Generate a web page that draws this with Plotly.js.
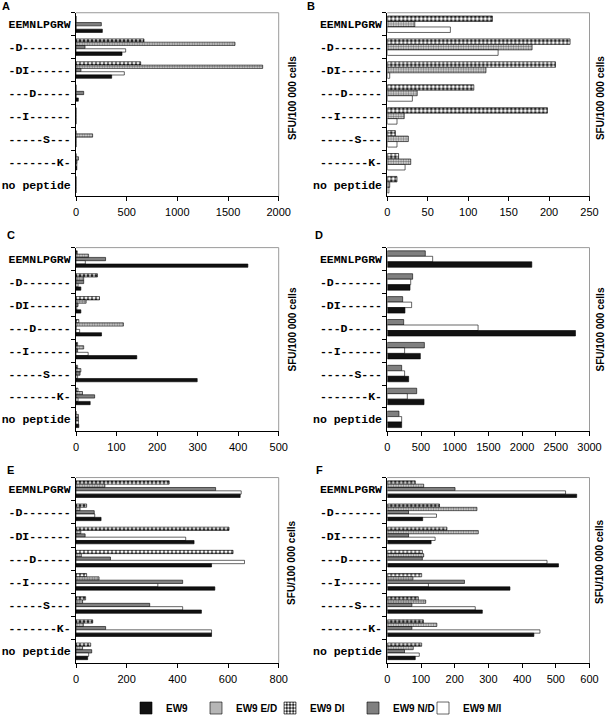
<!DOCTYPE html>
<html>
<head>
<meta charset="utf-8">
<script src="https://cdn.plot.ly/plotly-3.0.1.min.js"></script>
<style>html,body{margin:0;padding:0;background:#fff;}#chart{width:608px;height:723px;}</style>
</head>
<body>
<div id="chart"></div>
<script>
const categories = ["EEMNLPGRW","-D-------","-DI------","---D-----","--I------","-----S---","-------K-","no peptide"];
const seriesNames = ["EW9","EW9 E/D","EW9 DI","EW9 N/D","EW9 M/I"];
const panelLetters = ["A","B","C","D","E","F"];
const axisTitle = "SFU/100 000 cells";

// Panel A
const A_DI  = [0, 671, 638, 0, 0, 0, 0, 0];
const A_ED  = [0, 1569, 1842, 0, 0, 164, 25, 0];
const A_ND  = [250, 89, 49, 76, 0, 0, 10, 0];
const A_MI  = [0, 490, 477, 0, 0, 0, 8, 0];
const A_EW9 = [260, 454, 352, 23, 0, 0, 8, 0];
// Panel B
const B_DI  = [130, 226, 208, 107, 198, 10, 14, 12];
const B_ED  = [34, 179, 122, 37, 21, 26, 29, 3];
const B_MI  = [78, 137, 3, 31, 12, 12, 22, 2];
// Panel C
const C_DI  = [3, 53, 58, 7, 4, 4, 5, 0];
const C_ED  = [31, 19, 25, 117, 19, 12, 16, 6];
const C_ND  = [73, 19, 5, 0, 4, 10, 46, 6];
const C_MI  = [23, 5, 2, 9, 30, 4, 5, 6];
const C_EW9 = [424, 12, 12, 63, 150, 299, 35, 7];
// Panel D
const D_ND  = [564, 376, 228, 243, 550, 213, 436, 173];
const D_MI  = [673, 347, 361, 1347, 257, 257, 297, 213];
const D_EW9 = [2144, 337, 262, 2792, 490, 317, 545, 213];
// Panel E
const E_DI  = [368, 42, 604, 620, 42, 38, 66, 58];
const E_ED  = [114, 16, 19, 21, 91, 26, 29, 26];
const E_ND  = [551, 72, 36, 136, 421, 291, 117, 62];
const E_MI  = [652, 74, 433, 665, 323, 421, 535, 50];
const E_EW9 = [648, 99, 466, 535, 548, 495, 535, 46];
// Panel F
const F_DI  = [83, 155, 177, 104, 102, 92, 107, 102];
const F_ED  = [108, 266, 270, 108, 76, 114, 147, 77];
const F_ND  = [201, 63, 63, 104, 229, 73, 73, 51];
const F_MI  = [529, 146, 142, 474, 122, 261, 453, 95];
const F_EW9 = [562, 105, 130, 508, 364, 282, 435, 83];

const xRanges = [[0,2000],[0,250],[0,500],[0,3000],[0,800],[0,600]];
const xDticks = [500, 50, 100, 500, 200, 100];

// series styles
const styles = {
  "EW9":     {color:"#111111", legend:"legend"},
  "EW9 E/D": {color:"#ffffff", legend:"legend2", pattern:{shape:".", bgcolor:"#e6e6e6", fgcolor:"#7a7a7a", size:2.5, solidity:0.5}},
  "EW9 DI":  {color:"#111111", legend:"legend3", pattern:{shape:".", bgcolor:"#111111", fgcolor:"#ffffff", size:4, solidity:0.55}},
  "EW9 N/D": {color:"#808080", legend:"legend4"},
  "EW9 M/I": {color:"#ffffff", legend:"legend5"}
};

// panel contents, top-to-bottom order in each group
const panels = [
  [["EW9 DI",A_DI],["EW9 E/D",A_ED],["EW9 N/D",A_ND],["EW9 M/I",A_MI],["EW9",A_EW9]],
  [["EW9 DI",B_DI],["EW9 E/D",B_ED],["EW9 M/I",B_MI]],
  [["EW9 DI",C_DI],["EW9 E/D",C_ED],["EW9 N/D",C_ND],["EW9 M/I",C_MI],["EW9",C_EW9]],
  [["EW9 N/D",D_ND],["EW9 M/I",D_MI],["EW9",D_EW9]],
  [["EW9 DI",E_DI],["EW9 E/D",E_ED],["EW9 N/D",E_ND],["EW9 M/I",E_MI],["EW9",E_EW9]],
  [["EW9 DI",F_DI],["EW9 E/D",F_ED],["EW9 N/D",F_ND],["EW9 M/I",F_MI],["EW9",F_EW9]]
];

const W = 608, H = 723;
const colX = [[76, 278.7], [387.3, 589.5]];
const rowY = [[13, 200], [252.5, 439.3], [487, 676]];
const px = v => v / W;
const py = v => 1 - v / H;

const traces = [];
const shown = {};
panels.forEach((series, p) => {
  const sfx = p === 0 ? "" : String(p + 1);
  series.forEach(([name, vals]) => {
    const st = styles[name];
    const marker = {color: st.color, line: {color: "#000000", width: 0.6}};
    if (st.pattern) marker.pattern = st.pattern;
    traces.push({
      type: "bar", orientation: "h",
      y: categories, x: vals, name: name,
      xaxis: "x" + sfx, yaxis: "y" + sfx,
      marker: marker,
      legend: st.legend,
      showlegend: !shown[name],
      hoverinfo: "x+y+name"
    });
    shown[name] = true;
  });
});

const layout = {
  width: W, height: H,
  margin: {l: 0, r: 0, t: 0, b: 0},
  paper_bgcolor: "#ffffff", plot_bgcolor: "#ffffff",
  barmode: "group", bargap: 0.28, bargroupgap: 0,
  font: {family: "Liberation Sans, Arial, sans-serif", color: "#000000"},
  showlegend: true,
  annotations: [], shapes: []
};

for (let p = 0; p < 6; p++) {
  const sfx = p === 0 ? "" : String(p + 1);
  const col = p % 2, row = Math.floor(p / 2);
  const [x0, x1] = colX[col];
  const [y0, y1] = rowY[row];
  layout["xaxis" + sfx] = {
    domain: [px(x0), px(x1)],
    anchor: "y" + sfx,
    range: xRanges[p], dtick: xDticks[p], tick0: 0,
    showgrid: false, zeroline: false,
    showline: true, linecolor: "#000000", linewidth: 1,
    ticks: "outside", ticklen: 4, tickcolor: "#000000", tickwidth: 1,
    tickfont: {family: "Liberation Sans, Arial, sans-serif", size: 11, color: "#000000"},
    ticklabelstandoff: 2,
    fixedrange: true
  };
  layout["yaxis" + sfx] = {
    domain: [py(y1), py(y0)],
    anchor: "x" + sfx,
    type: "category",
    categoryorder: "array", categoryarray: categories,
    autorange: "reversed",
    showgrid: false, zeroline: false,
    showline: true, linecolor: "#000000", linewidth: 1,
    ticks: "outside", tickson: "boundaries", ticklen: 4, tickcolor: "#000000",
    tickfont: {family: "Liberation Mono, Courier New, monospace", size: 11.5, color: "#000000", weight: "bold"},
    ticklabelstandoff: 2,
    fixedrange: true
  };
  // light top / right frame
  layout.shapes.push({type: "line", xref: "paper", yref: "paper", x0: px(x0), x1: px(x1), y0: py(y0), y1: py(y0), line: {color: "#9a9a9a", width: 1}});
  layout.shapes.push({type: "line", xref: "paper", yref: "paper", x0: px(x1), x1: px(x1), y0: py(y0), y1: py(y1), line: {color: "#9a9a9a", width: 1}});
}

// panel letters
const letterPos = [[6, 6], [311, 6], [11, 239.5], [319.5, 240], [10.5, 479], [319.5, 479.5]];
panelLetters.forEach((t, i) => {
  layout.annotations.push({
    text: t, xref: "paper", yref: "paper",
    x: px(letterPos[i][0]), y: py(letterPos[i][1]),
    xanchor: "center", yanchor: "middle", showarrow: false,
    font: {family: "Liberation Sans, Arial, sans-serif", size: 11, color: "#000000", weight: "bold"}
  });
});

// right-side axis titles
const titlePos = [[292, 100], [600, 100], [292, 336], [600, 336], [292, 574], [600, 573]];
titlePos.forEach(([x, y]) => {
  layout.annotations.push({
    text: axisTitle, xref: "paper", yref: "paper",
    x: px(x), y: py(y), xanchor: "center", yanchor: "middle",
    textangle: -90, showarrow: false,
    font: {family: "Liberation Sans, Arial, sans-serif", size: 10, color: "#000000", weight: "bold"}
  });
});

// legends, one per series
const legendTextStart = {"legend": 166, "legend2": 236, "legend3": 310, "legend4": 393, "legend5": 463};
Object.keys(legendTextStart).forEach(k => {
  layout[k] = {
    x: px(legendTextStart[k] - 40), y: py(722),
    xanchor: "left", yanchor: "middle",
    orientation: "h", bgcolor: "rgba(0,0,0,0)", borderwidth: 0,
    itemclick: false, itemdoubleclick: false,
    font: {family: "Liberation Sans, Arial, sans-serif", size: 10, color: "#000000", weight: "bold"}
  };
});

Plotly.newPlot("chart", traces, layout, {displayModeBar: false, staticPlot: true});
</script>
</body>
</html>
